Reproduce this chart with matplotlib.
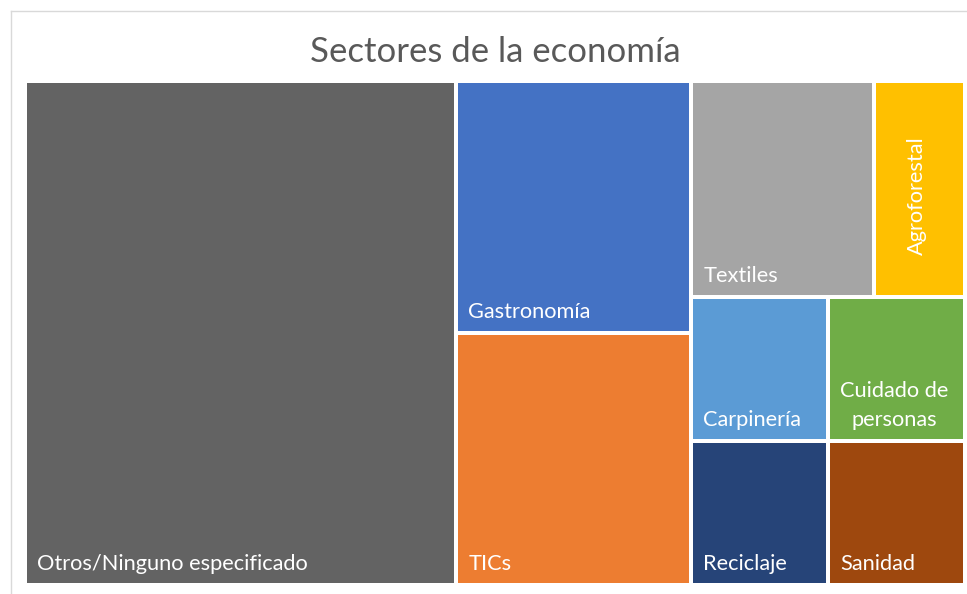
import matplotlib
matplotlib.use("Agg")
import matplotlib.pyplot as plt
from matplotlib.patches import Rectangle
from matplotlib.lines import Line2D

# ---- data ----
categories = ["Otros/Ninguno especificado", "Gastronomía", "TICs", "Textiles",
              "Agroforestal", "Carpinería", "Cuidado de personas", "Reciclaje", "Sanidad"]
values = [11, 3, 3, 2, 1, 1, 1, 1, 1]
colors = ["#636363", "#4472C4", "#ED7D31", "#A5A5A5", "#FFC000",
          "#5B9BD5", "#70AD47", "#264478", "#9E480E"]
title = "Sectores de la economía"

FONT = "Lato"
FIG_W, FIG_H = 967, 594
DPI = 100

fig = plt.figure(figsize=(FIG_W / DPI, FIG_H / DPI), dpi=DPI)
fig.patch.set_facecolor("white")

# plotting area in pixels (including half gaps)
L, T, W, H = 25.0, 81.3, 940.5, 504.0
ax = fig.add_axes([L / FIG_W, 1 - (T + H) / FIG_H, W / FIG_W, H / FIG_H])
ax.set_xlim(0, W)
ax.set_ylim(H, 0)
ax.axis("off")


def squarify_avg(vals, x, y, w, h):
    total = float(sum(vals))
    area = [v / total * w * h for v in vals]
    rects = []
    i = 0
    while i < len(area):
        short = min(w, h)

        def avg_ratio(row):
            thick = sum(row) / short
            rs = []
            for a in row:
                l = a / thick
                rs.append(max(thick / l, l / thick))
            return sum(rs) / len(rs)

        row = [area[i]]
        j = i + 1
        while j < len(area) and avg_ratio(row + [area[j]]) <= avg_ratio(row):
            row.append(area[j])
            j += 1
        thick = sum(row) / short
        if w >= h:
            yy = y
            for a in row:
                l = a / thick
                rects.append((x, yy, thick, l))
                yy += l
            x += thick
            w -= thick
        else:
            xx = x
            for a in row:
                l = a / thick
                rects.append((xx, y, l, thick))
                xx += l
            y += thick
            h -= thick
        i = j
    return rects


rects = squarify_avg(values, 0, 0, W, H)
gap = 2.1
renderer = fig.canvas.get_renderer()
fs = 15.7
pad = 10

for (x, y, w, h), lab, col in zip(rects, categories, colors):
    ax.add_patch(Rectangle((x + gap, y + gap), w - 2 * gap, h - 2 * gap,
                           facecolor=col, edgecolor="none"))
    t = ax.text(x + gap + pad, y + h - gap - pad + 0.5, lab, color="white", fontsize=fs,
                family=FONT, ha="left", va="bottom", multialignment="center",
                linespacing=1.53)
    tw = t.get_window_extent(renderer).width
    avail = w - 2 * gap - pad - 4
    if tw > avail:
        if h > 1.5 * w:
            t.set_rotation(90)
            t.set_ha("center")
            t.set_va("center")
            t.set_position((x + w / 2 - 3, y + h / 2 + 6))
        else:
            words = lab.split()
            lines, cur = [], ""
            for wd in words:
                cand = (cur + " " + wd).strip()
                t.set_text(cand)
                if t.get_window_extent(renderer).width > avail and cur:
                    lines.append(cur)
                    cur = wd
                else:
                    cur = cand
            lines.append(cur)
            t.set_text("\n".join(lines))

fig.text(495 / FIG_W, 1 - 62 / FIG_H, title, ha="center", va="baseline",
         fontsize=25, color="#595959", family=FONT)

# outer chart frame (partially cropped)
fig.add_artist(Line2D([10.5 / FIG_W, 10.5 / FIG_W], [0, 1 - 11 / FIG_H],
                      transform=fig.transFigure, color="#D9D9D9", lw=1))
fig.add_artist(Line2D([10.5 / FIG_W, 1], [1 - 11 / FIG_H, 1 - 11 / FIG_H],
                      transform=fig.transFigure, color="#D9D9D9", lw=1))

fig.savefig("out.png", dpi=DPI, facecolor="white")
